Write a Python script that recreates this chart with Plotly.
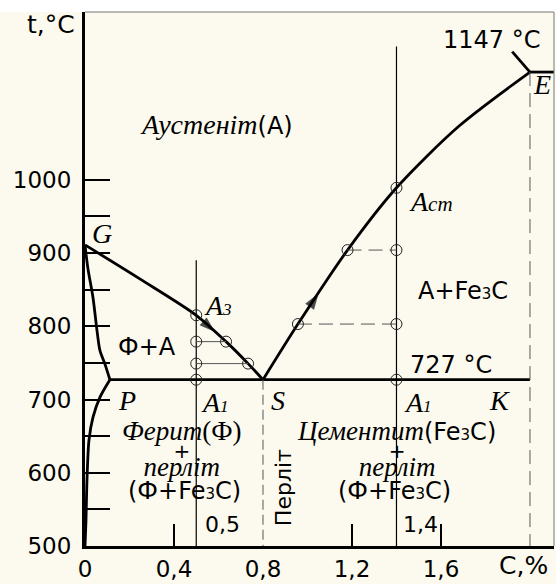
import plotly.graph_objects as go

# ---- Fe–Fe3C diagram, steel part: carbon content (%) vs temperature (°C) ----
# GS line (A3): start of ferrite precipitation
gs_c = [0, 0.25, 0.5, 0.634, 0.733, 0.8]
gs_t = [911, 864, 815, 779, 749, 727]
# SE line (Acm): carbon solubility limit in austenite
se_c = [0.8, 0.957, 1.18, 1.4, 1.68, 2.0]
se_t = [727, 803, 904, 989, 1073, 1147]
# GP line: end of austenite -> ferrite transformation
gp_c = [0, 0.013, 0.036, 0.054, 0.067, 0.09, 0.112]
gp_t = [911, 879, 839, 794, 767, 748, 727]
# PQ line: carbon solubility in ferrite
pq_c = [0.112, 0.067, 0.036, 0.018, 0.009, 0.004, 0]
pq_t = [727, 703, 676, 645, 591, 531, 500]

eutectoid_t = 727
eutectic_t = 1147
p_c, s_c, e_c = 0.112, 0.8, 2.0
c_max = 2.108
t_min, t_max = 500, 1229

# piece of the AE line above point E
ae_c = [1.92, 2.0]
ae_t = [1175, 1147]

# two example alloys (hypo- and hypereutectoid)
alloy_c = [0.5, 1.4]
alloy_top_t = [890, 1182]
hypo_marks_t = [815, 779, 749, 727]
hypo_gs_c = [0.634, 0.733]
hypo_gs_t = [779, 749]
hyper_marks_t = [989, 904, 803, 727]
hyper_se_c = [0.957, 1.18]
hyper_se_t = [803, 904]

# direction arrows on the cooling/heating lines
arrow_gs_c, arrow_gs_t = [0.5, 0.585], [815, 792]
arrow_se_c, arrow_se_t = [0.957, 1.05], [803, 845]

y_ticks = [500, 550, 600, 650, 700, 750, 800, 850, 900, 950, 1000]
y_labels = ["500", "", "600", "", "700", "", "800", "", "900", "", "1000"]
x_ticks = [0, 0.4, 0.8, 1.2, 1.6]
x_labels = ["0", "0,4", "0,8", "1,2", "1,6"]
x_minor_ticks = [0.4, 1.2, 1.6]

CREAM = "#FCFAEE"
INK = "#000000"
GREY = "#555555"
SANS = "DejaVu Sans"
SERIF = "Liberation Serif"

fig = go.Figure()


def line(xs, ys, width=2.8, color=INK, dash=None, shape="linear"):
    fig.add_trace(go.Scatter(
        x=xs, y=ys, mode="lines", hoverinfo="skip",
        line=dict(color=color, width=width, dash=dash, shape=shape, smoothing=0.8),
    ))


# main phase boundaries
line(gs_c, gs_t, shape="spline")
line(se_c, se_t, shape="spline")
line(gp_c, gp_t, shape="spline")
line(pq_c, pq_t, shape="spline")
line([p_c, e_c], [eutectoid_t, eutectoid_t])
line(ae_c, ae_t)
line([e_c, c_max], [eutectic_t, eutectic_t])

# alloy verticals
for c, top in zip(alloy_c, alloy_top_t):
    line([c, c], [top, t_min], width=1.2)

# dashed guides at S and E
line([s_c, s_c], [eutectoid_t, t_min], width=1, color=GREY, dash="10px,5px")
line([e_c, e_c], [eutectic_t, t_min], width=1, color=GREY, dash="14px,7px")

# tie lines
for c, t in zip(hypo_gs_c, hypo_gs_t):
    line([alloy_c[0], c], [t, t], width=1, color=GREY)
for c, t in zip(hyper_se_c, hyper_se_t):
    line([c, alloy_c[1]], [t, t], width=1, color=GREY, dash="14px,7px")

# open circles at critical points
circ = dict(symbol="circle-open", size=11, color="#222222", line=dict(width=1, color="#222222"))
fig.add_trace(go.Scatter(x=[alloy_c[0]] * len(hypo_marks_t), y=hypo_marks_t,
                         mode="markers", marker=circ, hoverinfo="skip"))
fig.add_trace(go.Scatter(x=hypo_gs_c, y=hypo_gs_t, mode="markers", marker=circ, hoverinfo="skip"))
fig.add_trace(go.Scatter(x=[alloy_c[1]] * len(hyper_marks_t), y=hyper_marks_t,
                         mode="markers", marker=circ, hoverinfo="skip"))
fig.add_trace(go.Scatter(x=hyper_se_c, y=hyper_se_t, mode="markers", marker=circ, hoverinfo="skip"))

# arrowheads oriented along the curves
for xs, ys in [(arrow_gs_c, arrow_gs_t), (arrow_se_c, arrow_se_t)]:
    fig.add_trace(go.Scatter(
        x=xs, y=ys, mode="markers", hoverinfo="skip",
        marker=dict(symbol="arrow", size=[0, 17], color=INK, angleref="previous",
                    line=dict(width=0)),
    ))


def sp(text, size, family=None, italic=False):
    style = f"font-size:{size}px"
    if family:
        style += f";font-family:'{family}'"
    if italic:
        style += ";font-style:italic"
    return f'<span style="{style}">{text}</span>'


def fe3c(size=24):
    return sp("Fe", size, SANS) + sp("3", 15, SANS) + sp("C", size, SANS)


# stacked phase descriptions (tight line pitch set by a small base font)
left_stack = (sp("Ферит", 27, SERIF, True) + sp("(Ф)", 27, SERIF) + "<br>"
              + sp("+", 20, SANS) + "<br>"
              + sp("перліт", 27, SERIF, True))
right_stack = (sp("Цементит", 27, SERIF, True) + sp("(", 24, SANS) + fe3c() + sp(")", 24, SANS) + "<br>"
               + sp("+", 20, SANS) + "<br>"
               + sp("перліт", 27, SERIF, True))

labels = [
    # text, x, y, family, size, angle
    (sp("Аустеніт", 28, SERIF, True) + "(А)", 0.589, 1076, SANS, 24, 0),
    ("<i>G</i>", 0.076, 927, SERIF, 28, 0),
    ("<i>A</i>" + sp("3", 17, italic=True), 0.598, 829, SERIF, 28, 0),
    ("Ф+А", 0.279, 771, SANS, 24, 0),
    ("<i>P</i>", 0.189, 699, SERIF, 28, 0),
    ("<i>A</i>" + sp("1", 17, italic=True), 0.585, 696, SERIF, 28, 0),
    ("<i>S</i>", 0.867, 699, SERIF, 28, 0),
    ("<i>A</i>" + sp("1", 17, italic=True), 1.497, 696, SERIF, 28, 0),
    ("<i>K</i>", 1.861, 699, SERIF, 28, 0),
    ("<i>E</i>", 2.054, 1130, SERIF, 28, 0),
    ("<i>A</i>" + sp("cm", 21, italic=True), 1.555, 970, SERIF, 28, 0),
    (left_stack, 0.436, 632, SERIF, 14, 0),
    ("(Ф+Fe" + sp("3", 15) + "C)", 0.449, 575, SANS, 24, 0),
    ("0,5", 0.62, 530, SANS, 22, 0),
    ("Перліт", 0.89, 579, SANS, 22, -90),
    (right_stack, 1.398, 633, SERIF, 14, 0),
    ("(Ф+Fe" + sp("3", 15) + "C)", 1.389, 575, SANS, 24, 0),
    ("1,4", 1.506, 530, SANS, 22, 0),
    (f"{eutectoid_t} °C", 1.645, 747, SANS, 24, 0),
    ("А+Fe" + sp("3", 15) + "C", 1.699, 848, SANS, 24, 0),
    (f"{eutectic_t} °C", 1.825, 1191, SANS, 24, 0),
]

annotations = []
for text, x, y, fam, size, ang in labels:
    annotations.append(dict(
        text=text, x=x, y=y, xref="x", yref="y", showarrow=False,
        xanchor="center", yanchor="middle", textangle=ang,
        font=dict(family=fam, size=size, color=INK),
    ))

# axis titles
annotations.append(dict(text="t,°C", xref="paper", yref="paper", x=-0.0725, y=0.976,
                        showarrow=False, xanchor="center", yanchor="middle",
                        font=dict(family=SANS, size=25, color=INK)))
annotations.append(dict(text="C,%", xref="x", yref="paper", x=1.97, y=-0.037,
                        showarrow=False, xanchor="center", yanchor="middle",
                        font=dict(family=SANS, size=25, color=INK)))

shapes = [
    # white strip along the top edge
    dict(type="rect", xref="paper", yref="paper", x0=-0.2, x1=1.01, y0=1.0, y1=1.03,
         fillcolor="white", line=dict(width=0), layer="below"),
    # thin frame on top and right
    dict(type="line", xref="paper", yref="paper", x0=0, x1=1, y0=1, y1=1,
         line=dict(color="#777777", width=1)),
    dict(type="line", xref="paper", yref="paper", x0=1, x1=1, y0=0, y1=1,
         line=dict(color="#777777", width=1)),
]

fig.update_layout(
    width=556, height=584,
    margin=dict(l=85, r=2, t=12, b=34),
    paper_bgcolor=CREAM, plot_bgcolor=CREAM,
    showlegend=False,
    annotations=annotations,
    shapes=shapes,
    xaxis=dict(
        range=[0, c_max], showgrid=False, zeroline=False,
        showline=True, linecolor=INK, linewidth=3,
        tickmode="array", tickvals=x_ticks, ticktext=x_labels, ticks="",
        tickfont=dict(family=SANS, size=23, color=INK),
        minor=dict(tickmode="array", tickvals=x_minor_ticks, ticks="inside",
                   ticklen=22, tickwidth=1.5, tickcolor=INK),
    ),
    yaxis=dict(
        range=[t_min, t_max], showgrid=False, zeroline=False,
        showline=True, linecolor=INK, linewidth=3,
        tickmode="array", tickvals=y_ticks, ticktext=y_labels,
        ticks="inside", ticklen=25, tickwidth=1.5, tickcolor=INK,
        tickfont=dict(family=SANS, size=23, color=INK),
        ticklabelstandoff=6,
    ),
)

fig.write_html("out.html")
